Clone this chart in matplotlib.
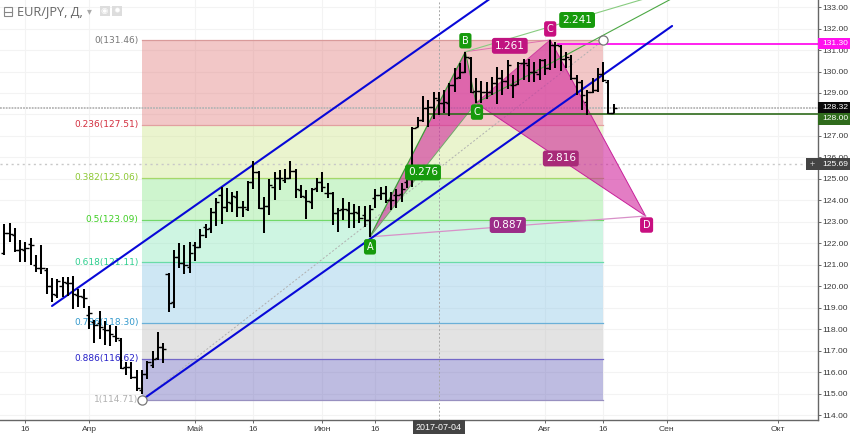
import matplotlib
matplotlib.use("Agg")
import matplotlib.pyplot as plt
from matplotlib.patches import Polygon, Rectangle

plt.rcParams['font.family'] = ['Liberation Sans', 'DejaVu Sans']

highs = [122.88,122.93,122.69,122.15,122.07,122.26,121.45,121.92,120.86,120.40,
         120.32,120.44,120.44,120.49,119.87,119.87,119.09,118.42,118.84,118.38,
         118.19,118.16,117.6,116.48,116.48,116.09,116.09,116.53,116.99,117.85,
         117.37,120.6,121.69,121.99,121.92,122.04,122.07,122.65,122.9,123.66,
         124.12,124.64,124.56,124.4,124.45,123.98,124.91,125.85,125.38,124.17,
         124.98,125.33,125.41,125.44,125.83,125.44,124.71,124.48,124.56,125.02,
         125.33,124.79,124.4,123.63,124.09,123.94,123.83,123.73,123.73,123.78,
         124.51,124.63,124.66,124.4,124.53,124.8,125.18,127.43,127.9,128.86,
         128.67,129.06,129.06,129.14,129.45,130.15,130.38,130.92,130.69,129.68,
         129.57,129.52,129.76,130.2,130.07,130.53,129.83,130.46,130.6,130.6,
         130.46,130.6,130.6,131.47,131.36,131.23,130.92,130.77,129.83,129.6,
         129.14,129.68,130.15,130.46,129.6,128.48]
lows = [121.45,122.07,121.58,121.14,121.11,121.0,120.64,120.55,119.62,119.25,
        119.46,119.51,119.55,118.94,119.03,118.97,118.03,117.34,117.54,117.26,
        117.23,117.41,116.14,115.86,115.70,115.13,115.0,115.7,116.2,116.56,
        116.41,118.81,118.97,120.83,120.55,120.63,121.19,121.76,122.23,122.49,
        122.82,122.9,123.47,123.47,123.24,123.24,123.5,124.51,123.58,122.49,
        123.32,124.01,124.48,124.82,124.98,124.09,124.12,123.11,123.59,124.4,
        124.37,124.09,122.85,122.54,123.08,122.69,122.69,122.93,122.74,122.3,
        123.63,124.01,123.89,123.55,123.64,123.93,124.57,124.63,127.4,127.66,
        127.4,127.77,127.97,128.05,127.92,129.06,129.63,129.91,129.01,128.51,
        128.51,128.7,128.9,128.5,128.9,129.2,128.75,129.37,129.6,129.53,
        129.53,129.6,129.84,130.07,130.15,130.04,130.15,129.6,128.9,128.2,
        127.97,128.98,129.06,129.53,128.02,128.05]
opens = [121.55,122.46,122.38,121.68,121.68,121.96,121.0,120.83,120.75,120.02,
         119.59,120.02,120.13,120.13,119.59,119.51,118.66,118.35,118.27,118.03,
         117.96,117.69,117.49,116.25,116.25,115.75,115.16,115.89,116.33,116.64,
         117.18,120.57,119.28,121.34,121.06,120.91,121.92,121.84,122.74,122.69,
         123.44,124.25,123.7,123.89,124.17,123.67,123.58,124.87,125.33,123.63,
         123.73,124.63,125.02,124.94,125.02,125.38,124.48,124.17,123.94,124.56,
         124.84,124.36,124.32,123.39,123.58,123.55,123.39,123.39,123.32,123.08,
         124.09,124.25,124.32,124.0,124.25,124.3,124.87,125.0,127.4,127.74,
         128.28,128.36,128.67,128.51,128.51,129.37,129.76,129.99,130.65,129.1,
         129.1,129.05,129.05,129.45,129.7,129.55,129.37,129.4,130.38,130.3,
         129.99,129.9,130.53,130.15,131.23,131.19,130.6,130.6,129.68,129.53,
         128.6,129.06,129.14,129.9,129.53,128.05]
closes = [122.5,122.41,121.68,121.72,121.76,121.92,120.86,120.83,120.02,119.63,
          120.24,120.21,120.13,119.62,119.54,119.46,118.73,118.19,118.11,117.96,
          117.76,117.57,116.2,116.25,115.75,115.24,115.89,116.45,116.61,117.18,
          117.07,119.2,121.37,121.09,120.98,121.56,121.84,122.38,122.65,123.47,
          123.94,123.67,123.94,124.22,123.67,123.67,124.87,125.33,123.63,123.73,
          124.71,125.02,125.02,125.02,125.38,124.51,124.2,123.98,124.55,124.84,
          124.6,124.32,123.39,123.55,123.58,123.39,123.47,123.16,123.08,123.58,
          124.25,124.32,124.0,124.0,124.25,124.55,125.1,127.35,127.75,128.28,
          128.36,128.75,128.51,128.59,129.37,129.68,129.99,130.69,129.05,129.1,
          129.05,129.05,129.45,129.7,129.55,130.3,129.37,130.38,130.38,129.99,
          129.99,130.53,130.15,131.23,131.23,130.6,130.66,129.68,129.53,128.9,
          129.06,129.14,129.9,129.6,128.05,128.32]

fib_ratios = ['0', '0.236', '0.382', '0.5', '0.618', '0.786', '0.886', '1']
fib_prices = [131.46, 127.51, 125.06, 123.09, 121.11, 118.30, 116.62, 114.71]
fib_fills = ['#e07a7a', '#cfe58c', '#8ce88c', '#8ce8bc', '#8cc6e6', '#bdbdbd', '#6560b8']
fib_lines = ['#d99a9a', '#e2a0a0', '#a5d86a', '#72d86a', '#6adca8', '#6ab0d8', '#7468c8', '#9890c0']
fib_text = ['#777777', '#d32f3f', '#8cc832', '#3fcf24', '#2ecf8f', '#3399cc', '#2620c8', '#b0b0b0']
fib_start, fib_end = 26, 113

tick_pos = [4, 16, 36, 47, 60, 70, 102, 113, 125, 146]
tick_txt = ['16', 'Апр', 'Май', '16', 'Июн', '16', 'Авг', '16', 'Сен', 'Окт']
price_ticks = list(range(114, 134))

pt_A = (69, 122.30)
pt_B = (87, 130.92)
pt_C1 = (89, 128.53)
pt_C2 = (103, 131.47)
pt_D = (121, 123.27)
chan_low = [(26, 114.71), (126, 132.12)]
chan_up = [(9, 119.08), (92, 133.45)]

fig = plt.figure(figsize=(8.5, 4.34), dpi=100)
ax = fig.add_axes([0, 14 / 434, 818 / 850, 420 / 434])
ax.set_xlim(-0.81, 153.53)
ax.set_ylim(113.77, 133.33)

ax.set_yticks(price_ticks)
ax.set_yticklabels([f'{p:.2f}' for p in price_ticks], fontsize=6.1, color='#3a3a3a')
ax.set_xticks(tick_pos)
ax.set_xticklabels(tick_txt, fontsize=6.1, color='#3a3a3a')
ax.yaxis.tick_right()
ax.tick_params(axis='both', length=2, width=0.7, color='#666666', pad=1.2)
ax.tick_params(axis='x', pad=2.2)
ax.grid(True, color='#f3f3f3', lw=0.8, zorder=0)
ax.set_axisbelow(True)
for s in ('left', 'top'):
    ax.spines[s].set_visible(False)
for s in ('right', 'bottom'):
    ax.spines[s].set_color('#666666')
    ax.spines[s].set_linewidth(1.0)

# fibonacci zones
w = fib_end - fib_start
for k in range(7):
    ax.add_patch(Rectangle((fib_start, fib_prices[k + 1]), w, fib_prices[k] - fib_prices[k + 1],
                           facecolor=fib_fills[k], alpha=0.42, lw=0, zorder=1))
for k, p in enumerate(fib_prices):
    ax.plot([fib_start, fib_end], [p, p], color=fib_lines[k], lw=0.9, zorder=1.2)
    ax.annotate(f'{fib_ratios[k]}({p:.2f})', (fib_start, p), xytext=(-2.5, 0),
                textcoords='offset points', ha='right', va='center',
                fontsize=6.5, color=fib_text[k], family='DejaVu Sans', zorder=1.3)

# horizontal levels
ax.axhline(128.32, color='#b5b5b5', lw=1.3, ls=(0, (1, 0.6)), zorder=1.5)
ax.axhline(125.69, color='#c8c8c8', lw=1.0, ls=(0, (1.5, 2.5)), zorder=1.5)
ax.axvline(82, color='#a8a8a8', lw=0.7, ls=(0, (2, 2)), zorder=1.5)
ax.plot([fib_start, fib_end], [fib_prices[-1], fib_prices[0]], color='#b0b0b0', lw=0.7,
        ls=(0, (2, 2)), zorder=1.6)

# harmonic pattern
ax.add_patch(Polygon([pt_A, pt_B, pt_C1], closed=True, facecolor='#d0209a', alpha=0.58, lw=0, zorder=2))
ax.add_patch(Polygon([pt_C1, pt_C2, pt_D], closed=True, facecolor='#d0209a', alpha=0.58, lw=0, zorder=2))
ax.plot(*zip(pt_A, pt_B), color='#3f9a3a', lw=0.9, zorder=2.2)
ax.plot(*zip(pt_A, pt_C1), color='#6fa86a', lw=0.7, zorder=2.2)
ax.plot(*zip(pt_B, pt_C1), color='#3f9a3a', lw=0.7, zorder=2.2)
ax.plot(*zip(pt_C1, pt_C2), color='#d040a0', lw=0.7, zorder=2.2)
ax.plot(*zip(pt_C2, pt_D), color='#c8209a', lw=0.7, zorder=2.2)
ax.plot(*zip(pt_C1, pt_D), color='#c8209a', lw=0.7, zorder=2.2)
ax.plot(*zip(pt_A, pt_D), color='#d890c8', lw=0.9, zorder=2.2)
ax.plot(*zip(pt_B, pt_C2), color='#e070b0', lw=0.7, zorder=2.2)
ax.plot([pt_B[0], 121], [pt_B[1], 133.4], color='#88cc80', lw=0.8, zorder=2.2)
ax.plot([pt_C1[0], 126], [pt_C1[1], 133.4], color='#4ca844', lw=0.8, zorder=2.2)

# channel
ax.plot(*zip(*chan_low), color='#0808d8', lw=1.5, zorder=2.5, solid_capstyle='round')
ax.plot(*zip(*chan_up), color='#0808d8', lw=1.5, zorder=2.5, solid_capstyle='round')

# price levels
ax.plot([104.5, 153.53], [131.30, 131.30], color='#ff10ee', lw=1.3, zorder=2.4)
ax.plot([80, 153.53], [128.0, 128.0], color='#2f6b1c', lw=1.2, zorder=2.4)

# OHLC bars
idx = list(range(len(highs)))
ax.vlines(idx, lows, highs, color='#000000', lw=1.45, zorder=3)
ax.hlines(opens, [i - 0.6 for i in idx], idx, color='#000000', lw=1.0, zorder=3)
ax.hlines(closes, idx, [i + 0.6 for i in idx], color='#000000', lw=1.0, zorder=3)

# anchors
ax.plot([fib_start, fib_end], [fib_prices[-1], fib_prices[0]], ls='none', marker='o', ms=6.6,
        mfc='white', mec='#777777', mew=0.9, zorder=4)

def tag(txt, xy, dx, dy, bg, fs=7.0):
    ax.annotate(txt, xy, xytext=(dx * 0.72, dy * 0.72), textcoords='offset points', ha='center',
                va='center', fontsize=fs, color='white', family='DejaVu Sans', zorder=5,
                bbox=dict(boxstyle='round,pad=0.28,rounding_size=0.25', fc=bg, ec='none'))

green, mag = '#169a0c', '#c80f80'
tag('A', pt_A, 0, -10, green)
tag('B', pt_B, 0, 11, green)
tag('C', pt_C1, 1, -9, green)
tag('C', pt_C2, 0, 11, mag)
tag('D', pt_D, 1, -9, mag)
tag('1.261', ((pt_B[0] + pt_C2[0]) / 2, (pt_B[1] + pt_C2[1]) / 2), 2, 0, '#c01480', 7.6)
tag('2.241', (107.7, 132.4), 2, 0, green, 7.6)
tag('0.276', (79, 125.3), 0, 0, green, 7.6)
tag('2.816', (105, 125.95), 0, 0, '#a82a78', 7.6)
tag('0.887', (95, 122.85), 0, 0, '#9c2c88', 7.6)

# right-side price tags: (line value, where its tag sits)
trans = ax.get_yaxis_transform()
level_vals = [131.30, 128.32, 128.0, 125.69]
level_tag_y = [131.30, 128.32, 127.79, 125.69]
level_cols = ['#ff10ee', '#0a0a0a', '#2f6b1c', '#444444']
for price, yy, bg in zip(level_vals, level_tag_y, level_cols):
    ax.add_patch(Rectangle((1.0, yy - 0.26), 32 / 818, 0.52, transform=trans, facecolor=bg, lw=0,
                           clip_on=False, zorder=6))
    ax.text(1.0 + 17 / 818, yy, f'{price:.2f}', transform=trans, ha='center', va='center',
            fontsize=6.1, color='white', clip_on=False, zorder=7)
ax.add_patch(Rectangle((1.0 - 12 / 818, 125.69 - 0.26), 12 / 818, 0.52, transform=trans, facecolor='#444444',
                       lw=0, clip_on=False, zorder=6))
ax.text(1.0 - 6 / 818, 125.69, '+', transform=trans, ha='center', va='center', fontsize=6.5,
        color='#cccccc', zorder=7, clip_on=False)

# crosshair date tag
ax.annotate('2017-07-04', (82, 113.77), xytext=(0, -7.5 * 0.72), textcoords='offset points', ha='center',
            va='center', fontsize=6.4, color='white', annotation_clip=False, zorder=7,
            bbox=dict(boxstyle='square,pad=0.38', fc='#444444', ec='none'))

# header
fig.text(17 / 850, 1 - 11.5 / 434, 'EUR/JPY, Д,', fontsize=9.2, color='#666666', va='center', family='Open Sans')
fig.text(89 / 850, 1 - 11.5 / 434, '▾', fontsize=7, color='#aaaaaa', va='center', ha='center', family='DejaVu Sans')
fig.add_artist(Rectangle((3.5 / 850, 1 - 15.5 / 434), 8 / 850, 8.5 / 434, transform=fig.transFigure, fc='none',
                         ec='#888888', lw=0.8))
fig.add_artist(plt.Line2D([3.5 / 850, 11.5 / 850], [1 - 11.5 / 434] * 2, color='#888888', lw=0.8))
for x0 in (99.5, 112):
    fig.add_artist(Rectangle((x0 / 850, 1 - 16 / 434), 10 / 850, 10 / 434, transform=fig.transFigure,
                             fc='#dddddd', ec='none'))
fig.text(104.5 / 850, 1 - 11 / 434, '◉', fontsize=6, color='white', ha='center', va='center', family='DejaVu Sans')
fig.text(117 / 850, 1 - 11 / 434, '✹', fontsize=6, color='white', ha='center', va='center', family='DejaVu Sans')

fig.savefig('out.png', dpi=100, facecolor='white')
